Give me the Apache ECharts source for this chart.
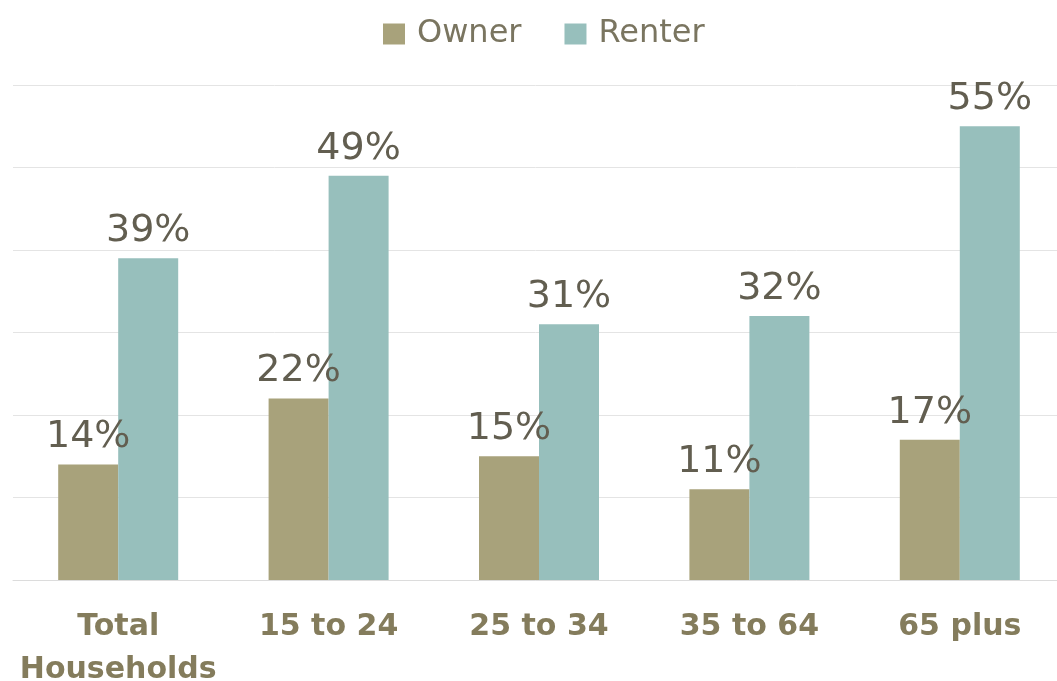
<!DOCTYPE html>
<html>
<head>
<meta charset="utf-8">
<script src="https://cdn.jsdelivr.net/npm/echarts@6/dist/echarts.min.js"></script>
<style>html,body{margin:0;padding:0;background:#fff}#c{width:1057px;height:681px}</style>
</head>
<body>
<div id="c"></div>
<script>
const categories = ['Total\nHouseholds', '15 to 24', '25 to 34', '35 to 64', '65 plus'];
const ownerValues = [14, 22, 15, 11, 17];
const renterValues = [39, 49, 31, 32, 55];
const seriesNames = ['Owner', 'Renter'];

const chart = echarts.init(document.getElementById('c'), null, {renderer: 'canvas'});
const labelStyle = {
  show: true, position: 'top', distance: 8,
  formatter: p => p.value + '%',
  fontFamily: 'DejaVu Sans', fontSize: 38, color: '#625e50'
};
chart.setOption({
  animation: false,
  backgroundColor: '#ffffff',
  legend: {
    top: 13, left: 378,
    itemWidth: 22, itemHeight: 21, itemGap: 43,
    icon: 'rect',
    textStyle: {fontFamily: 'DejaVu Sans', fontSize: 32, color: '#7a7560', padding: [0, 0, 0, 7]},
    data: seriesNames
  },
  grid: {left: 13, width: 1052, top: 85, bottom: 101, containLabel: false, outerBoundsMode: 'none'},
  xAxis: {
    type: 'category', data: categories,
    axisLine: {lineStyle: {color: '#dcdcdc', width: 1}},
    axisTick: {show: false},
    axisLabel: {fontFamily: 'DejaVu Sans', fontWeight: 'bold', fontSize: 30, color: '#847c5c', margin: 26, lineHeight: 43, interval: 0}
  },
  yAxis: {
    type: 'value', min: 0, max: 60, interval: 10,
    axisLabel: {show: false}, axisLine: {show: false}, axisTick: {show: false},
    splitLine: {lineStyle: {color: '#e4e4e4', width: 1}}
  },
  series: [
    {name: seriesNames[0], type: 'bar', data: ownerValues, barWidth: 60, barGap: '0%', itemStyle: {color: '#a8a27b'}, label: labelStyle},
    {name: seriesNames[1], type: 'bar', data: renterValues, barWidth: 60, barGap: '0%', itemStyle: {color: '#97bfbc'}, label: labelStyle}
  ]
});
</script>
</body>
</html>
